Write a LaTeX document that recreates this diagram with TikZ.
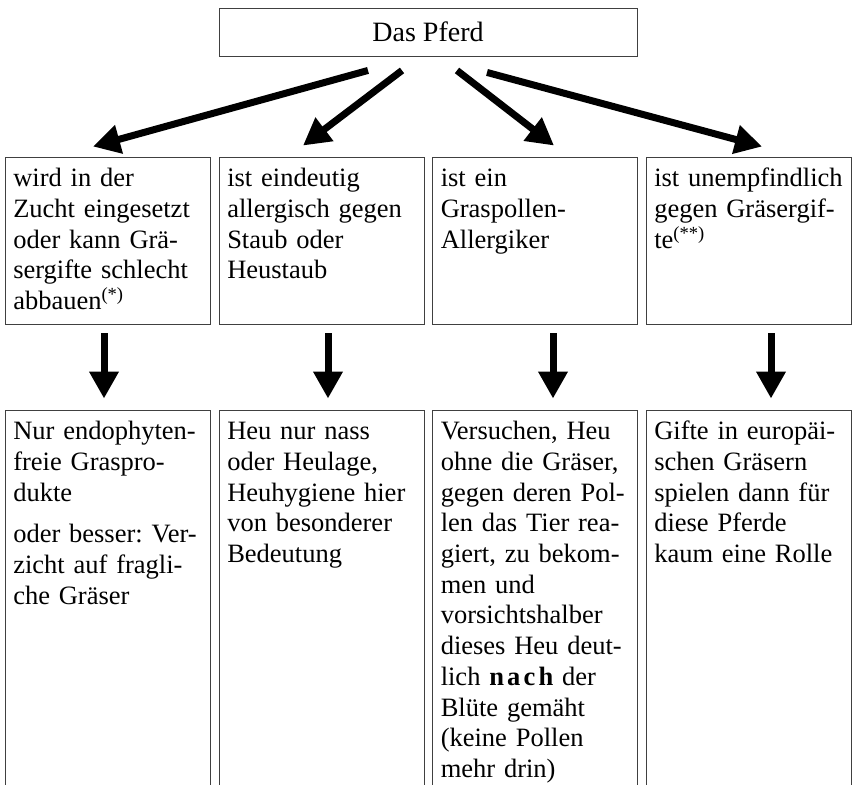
\documentclass[tikz,border=0pt]{standalone}
\usepackage{fontspec}
\setmainfont{Liberation Serif}
\frenchspacing
\usetikzlibrary{arrows.meta}
\tikzset{
  kasten/.style={draw=black!75,line width=0.9pt,minimum width=205pt,inner sep=0pt},
  oben/.style={kasten,minimum height=167pt},
  unten/.style={kasten,minimum height=380pt},
  inhalt/.style={anchor=north west,inner sep=8.5pt,align=left,text width=190pt,
    font=\fontsize{26.5}{30.7}\selectfont},
  pfeil/.style={line width=7pt,-{Triangle[width=28pt,length=27pt]}}
}
\begin{document}
\begin{tikzpicture}[x=1pt,y=-1pt]
  \clip (0,0) rectangle (856,784);
  % Kopf
  \node[kasten,minimum width=418pt,minimum height=48pt,
    font=\fontsize{28}{30}\selectfont] (pferd) at (428,32) {Das Pferd};
  % obere Reihe
  \node[oben] (b1) at (107.5,240.5) {};
  \node[oben] (b2) at (321.5,240.5) {};
  \node[oben] (b3) at (535,240.5) {};
  \node[oben] (b4) at (748.5,240.5) {};
  \node[inhalt] (tb1) at (b1.north west) {\strut wird in der\\Zucht eingesetzt\\oder kann Grä-\\sergifte schlecht\\abbauen\textsuperscript{(*)}};
  \node[inhalt] (tb2) at (b2.north west) {\strut ist eindeutig\\allergisch gegen\\Staub oder\\Heustaub};
  \node[inhalt] (tb3) at (b3.north west) {\strut ist ein\\Graspollen-\\Allergiker};
  \node[inhalt] (tb4) at (b4.north west) {\strut ist unempfindlich\\gegen Gräsergif-\\te\textsuperscript{(**)}};
  % untere Reihe
  \node[unten] (c1) at (107.5,600) {};
  \node[unten] (c2) at (321.5,600) {};
  \node[unten] (c3) at (535,600) {};
  \node[unten] (c4) at (748.5,600) {};
  \node[inhalt] (tc1) at (c1.north west) {\strut Nur endophyten-\\freie Graspro-\\dukte\\[11pt]oder besser: Ver-\\zicht auf fragli-\\che Gräser};
  \node[inhalt] (tc2) at (c2.north west) {\strut Heu nur nass\\oder Heulage,\\Heuhygiene hier\\von besonderer\\Bedeutung};
  \node[inhalt] (tc3) at (c3.north west) {\strut Versuchen, Heu\\ohne die Gräser,\\gegen deren Pol-\\len das Tier rea-\\giert, zu bekom-\\men und\\vorsichtshalber\\dieses Heu deut-\\lich {\bfseries\addfontfeatures{LetterSpace=12}nach} der\\Blüte gemäht\\(keine Pollen\\mehr drin)};
  \node[inhalt] (tc4) at (c4.north west) {\strut Gifte in europäi-\\schen Gräsern\\spielen dann für\\diese Pferde\\kaum eine Rolle};
  % Pfeile
  \draw[pfeil] ([xshift=-60pt,yshift=-14pt]pferd.south) -- ([xshift=-14.5pt,yshift=10pt]b1.north);
  \draw[pfeil] ([xshift=-26pt,yshift=-14pt]pferd.south) -- ([xshift=-18.5pt,yshift=11pt]b2.north);
  \draw[pfeil] ([xshift=29pt,yshift=-14pt]pferd.south) -- ([xshift=19pt,yshift=11pt]b3.north);
  \draw[pfeil] ([xshift=59pt,yshift=-16pt]pferd.south) -- ([xshift=13.5pt,yshift=10pt]b4.north);
  \draw[pfeil] ([xshift=-3.5pt,yshift=-9pt]b1.south) -- ([xshift=-3.5pt,yshift=11pt]c1.north);
  \draw[pfeil] ([xshift=6.5pt,yshift=-9pt]b2.south) -- ([xshift=6.5pt,yshift=11pt]c2.north);
  \draw[pfeil] ([xshift=18pt,yshift=-9pt]b3.south) -- ([xshift=18pt,yshift=11pt]c3.north);
  \draw[pfeil] ([xshift=22.5pt,yshift=-9pt]b4.south) -- ([xshift=22.5pt,yshift=11pt]c4.north);
\end{tikzpicture}
\end{document}
